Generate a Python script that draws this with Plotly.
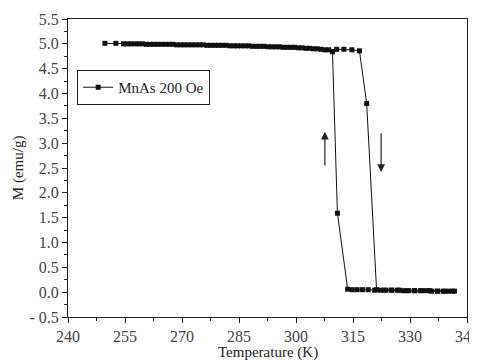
import plotly.graph_objects as go

# Heating branch (K, emu/g)
T_heat = [249.7, 252.6, 254.6, 256.6, 258.6, 260.6, 262.6, 264.6, 266.6, 268.6,
          270.6, 272.6, 274.6, 276.6, 278.6, 280.6, 282.6, 284.6, 286.6, 288.6,
          290.6, 292.6, 294.6, 296.6, 298.6, 300.6, 302.6, 304.6, 306.6, 308.6,
          310.7, 312.6, 314.7, 316.7, 318.6, 321.2, 323.2, 325.2, 327.2, 329.2,
          331.2, 333.2, 335.2, 337.2, 339.2, 341.2]
M_heat = [5.01, 5.01, 5.00, 5.00, 5.00, 4.99, 4.99, 4.99, 4.99, 4.98,
          4.98, 4.98, 4.98, 4.97, 4.97, 4.97, 4.96, 4.96, 4.96, 4.95,
          4.95, 4.94, 4.94, 4.93, 4.93, 4.92, 4.91, 4.90, 4.89, 4.88,
          4.89, 4.89, 4.88, 4.86, 3.80, 0.05, 0.04, 0.04, 0.04, 0.03,
          0.03, 0.03, 0.03, 0.02, 0.02, 0.02]

# Cooling branch
T_cool = [341.7, 340.2, 338.7, 337.2, 335.7, 334.2, 332.7, 331.2, 329.7, 328.2,
          326.7, 325.2, 323.7, 322.2, 320.7, 319.0, 317.5, 316.1, 314.8, 313.6,
          310.9, 309.6, 307.6, 305.6, 303.6, 301.6, 299.6, 297.6, 295.6, 293.6,
          291.6, 289.6, 287.6, 285.6, 283.6, 281.6, 279.6, 277.6, 275.6, 273.6,
          271.6, 269.6, 267.6, 265.6, 263.6, 261.6, 259.6, 257.6, 255.6]
M_cool = [0.02, 0.02, 0.02, 0.02, 0.02, 0.03, 0.03, 0.03, 0.03, 0.03,
          0.04, 0.04, 0.04, 0.04, 0.04, 0.05, 0.05, 0.05, 0.05, 0.06,
          1.59, 4.84, 4.88, 4.90, 4.91, 4.92, 4.93, 4.93, 4.94, 4.94,
          4.95, 4.95, 4.96, 4.96, 4.96, 4.97, 4.97, 4.97, 4.98, 4.98,
          4.98, 4.98, 4.99, 4.99, 4.99, 4.99, 5.00, 5.00, 5.00]

x_ticks = [240, 255, 270, 285, 300, 315, 330, 345]
y_ticks = [-0.5, 0.0, 0.5, 1.0, 1.5, 2.0, 2.5, 3.0, 3.5, 4.0, 4.5, 5.0, 5.5]
y_ticktext = ["- 0.5", "0.0", "0.5", "1.0", "1.5", "2.0", "2.5", "3.0", "3.5",
              "4.0", "4.5", "5.0", "5.5"]

# Arrows: (T, M_tail, M_head)
arrow_up = (307.6, 2.52, 3.23)
arrow_down = (322.4, 3.23, 2.42)

font_family = "Liberation Serif, Times New Roman, serif"

fig = go.Figure()
fig.add_trace(go.Scatter(
    x=T_heat + T_cool, y=M_heat + M_cool, mode="lines+markers",
    name="MnAs 200 Oe",
    line=dict(color="#111111", width=1),
    marker=dict(symbol="square", size=5, color="#111111"),
))

for (t, m0, m1) in (arrow_up, arrow_down):
    fig.add_annotation(x=t, y=m1, ax=t, ay=m0, xref="x", yref="y",
                       axref="x", ayref="y", text="", showarrow=True,
                       arrowhead=2, arrowsize=1.3, arrowwidth=1.2,
                       arrowcolor="#222222")

axis_common = dict(
    showline=True, linecolor="#222222", linewidth=1, mirror=True,
    ticks="outside", ticklen=5, tickwidth=1, tickcolor="#222222",
    showgrid=False, zeroline=False, automargin=False,
    ticklabeloverflow="allow",
    tickfont=dict(family=font_family, size=16, color="#444444"),
)

fig.update_xaxes(range=[240, 345], tickvals=x_ticks,
                 minor=dict(dtick=7.5, ticks="outside", ticklen=3,
                            tickcolor="#222222", showgrid=False),
                 **axis_common)
fig.update_yaxes(range=[-0.5, 5.5], tickvals=y_ticks, ticktext=y_ticktext,
                 minor=dict(dtick=0.25, ticks="outside", ticklen=3,
                            tickcolor="#222222", showgrid=False),
                 **axis_common)

# axis titles as paper annotations
fig.add_annotation(text="Temperature (K)", xref="paper", yref="paper",
                   x=0.5, y=-0.118, xanchor="center", yanchor="middle",
                   showarrow=False,
                   font=dict(family=font_family, size=15, color="#222222"))
fig.add_annotation(text="M (emu/g)", xref="paper", yref="paper",
                   x=-0.125, y=0.5, xanchor="center", yanchor="middle",
                   textangle=-90, showarrow=False,
                   font=dict(family=font_family, size=15, color="#222222"))

fig.update_layout(
    width=469, height=352,
    margin=dict(l=60, r=10, t=11, b=43),
    plot_bgcolor="white", paper_bgcolor="white",
    showlegend=True,
    legend=dict(x=0.023, y=0.829, xanchor="left", yanchor="top",
                bordercolor="#222222", borderwidth=1, bgcolor="white",
                font=dict(family=font_family, size=15, color="#222222"),
                tracegroupgap=0),
)

fig.write_html("out.html")
